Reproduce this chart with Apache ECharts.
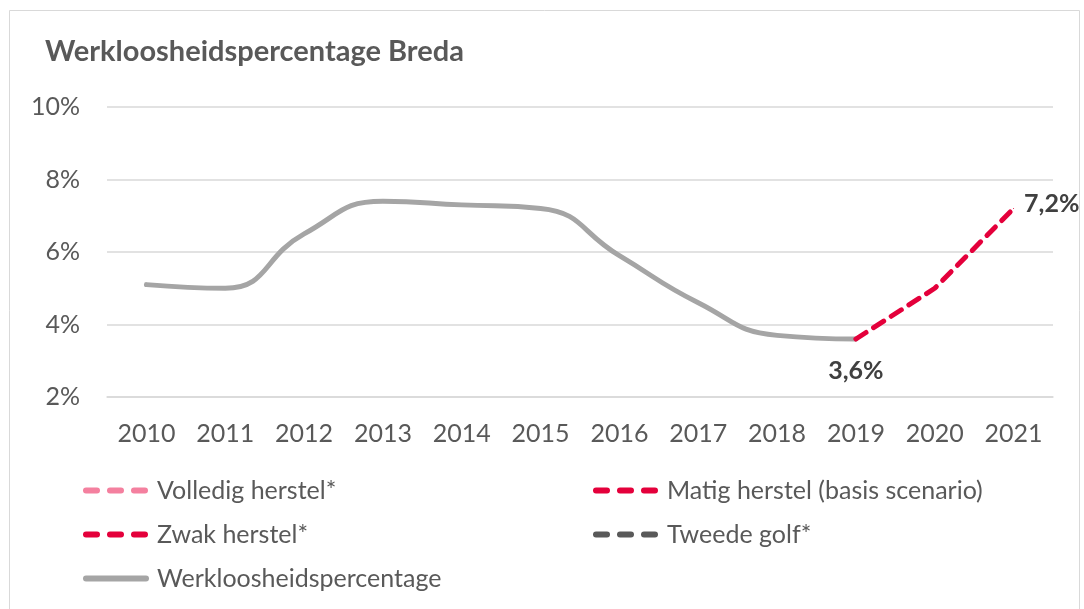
<!DOCTYPE html>
<html>
<head>
<meta charset="utf-8">
<script src="https://cdn.jsdelivr.net/npm/echarts@6/dist/echarts.min.js"></script>
<style>
html, body { margin: 0; padding: 0; background: #fff; }
#chart { width: 1084px; height: 609px; }
</style>
</head>
<body>
<div id="chart"></div>
<script>
var years = ['2010', '2011', '2012', '2013', '2014', '2015', '2016', '2017', '2018', '2019', '2020', '2021'];
var yTicks = [2, 4, 6, 8, 10];
var werkloos = [5.1, 5.0, 6.5, 7.4, 7.3, 7.2, 5.9, 4.6, 3.7, 3.6, null, null];
var matig = [null, null, null, null, null, null, null, null, null, 3.6, 5.0, 7.2];
var volledig = [];
var zwak = [];
var tweede = [];

var myChart = echarts.init(document.getElementById('chart'));

var fontName = 'Lato, "Open Sans", sans-serif';

function pct(p) {
	return String(p.value).replace('.', ',') + '%';
}

var labelStyle = {
	show: true,
	formatter: pct,
	fontFamily: fontName,
	fontSize: 25,
	fontWeight: 'bold',
	color: '#404040'
};

var dash = [12, 9];

var legendBase = {
	orient: 'vertical',
	top: 473,
	itemWidth: 60,
	itemHeight: 14,
	itemGap: 19,
	itemStyle: { opacity: 0 },
	lineStyle: { width: 6, cap: 'round', type: [11, 13] },
	textStyle: { fontFamily: fontName, fontSize: 25, color: '#595959', padding: [0, 0, 0, 6] }
};

// one labelled point (tiny symbol so the label is drawn)
function labelled(arr, idx, lab) {
	return arr.map(function(v, i) {
		if (i === idx) {
			return { value: v, symbol: 'circle', symbolSize: 1, label: Object.assign({}, labelStyle, lab) };
		}
		return v;
	});
}

var option = {
	backgroundColor: '#fff',
	animation: false,
	title: {
		text: 'Werkloosheidspercentage Breda',
		left: 40,
		top: 32,
		textStyle: {
			fontFamily: fontName,
			fontSize: 29,
			fontWeight: 'bold',
			color: '#595959'
		}
	},
	graphic: [{
		type: 'rect',
		shape: { x: 9.5, y: 10.5, width: 1070, height: 640 },
		style: { fill: 'none', stroke: '#d9d9d9', lineWidth: 1 },
		silent: true
	}],
	legend: [
		Object.assign({}, legendBase, {
			left: 78,
			data: ['Volledig herstel*', 'Zwak herstel*', {
				name: 'Werkloosheidspercentage',
				itemStyle: { opacity: 0 },
				lineStyle: { type: 'solid', width: 6, cap: 'round' }
			}]
		}),
		Object.assign({}, legendBase, { left: 588, data: ['Matig herstel (basis scenario)', 'Tweede golf*'] })
	],
	grid: {
		left: 107,
		right: 31,
		top: 107,
		bottom: 212
	},
	xAxis: {
		type: 'category',
		data: years,
		boundaryGap: true,
		axisLine: { show: true, lineStyle: { color: '#d9d9d9', width: 1.5 } },
		axisTick: { show: false },
		axisLabel: {
			margin: 24,
			fontFamily: fontName,
			fontSize: 25,
			color: '#595959'
		}
	},
	yAxis: {
		type: 'value',
		min: yTicks[0],
		max: yTicks[yTicks.length - 1],
		interval: 2,
		axisLine: { show: false },
		axisTick: { show: false },
		splitLine: { lineStyle: { color: '#d9d9d9', width: 1.5 } },
		axisLabel: {
			margin: 27,
			fontFamily: fontName,
			fontSize: 25,
			color: '#595959',
			formatter: '{value}%'
		}
	},
	series: [{
		name: 'Volledig herstel*',
		type: 'line',
		data: volledig,
		symbol: 'none',
		itemStyle: { color: '#f4809f' },
		lineStyle: { color: '#f4809f', width: 5, type: dash, cap: 'round' }
	}, {
		name: 'Matig herstel (basis scenario)',
		type: 'line',
		symbol: 'none',
		data: labelled(matig, 11, { position: 'right', distance: 10, offset: [0, -5] }),
		itemStyle: { color: '#e4003b' },
		lineStyle: { color: '#e4003b', width: 5, type: dash, cap: 'round' }
	}, {
		name: 'Zwak herstel*',
		type: 'line',
		data: zwak,
		symbol: 'none',
		itemStyle: { color: '#e4003b' },
		lineStyle: { color: '#e4003b', width: 5, type: dash, cap: 'round' }
	}, {
		name: 'Tweede golf*',
		type: 'line',
		data: tweede,
		symbol: 'none',
		itemStyle: { color: '#595959' },
		lineStyle: { color: '#595959', width: 5, type: dash, cap: 'round' }
	}, {
		name: 'Werkloosheidspercentage',
		type: 'line',
		smooth: 0.5,
		symbol: 'none',
		z: 1,
		data: labelled(werkloos, 9, { position: 'bottom', distance: 19 }),
		itemStyle: { color: '#a5a5a5' },
		lineStyle: { color: '#a5a5a5', width: 5, cap: 'round' }
	}]
};

myChart.setOption(option);
</script>
</body>
</html>
